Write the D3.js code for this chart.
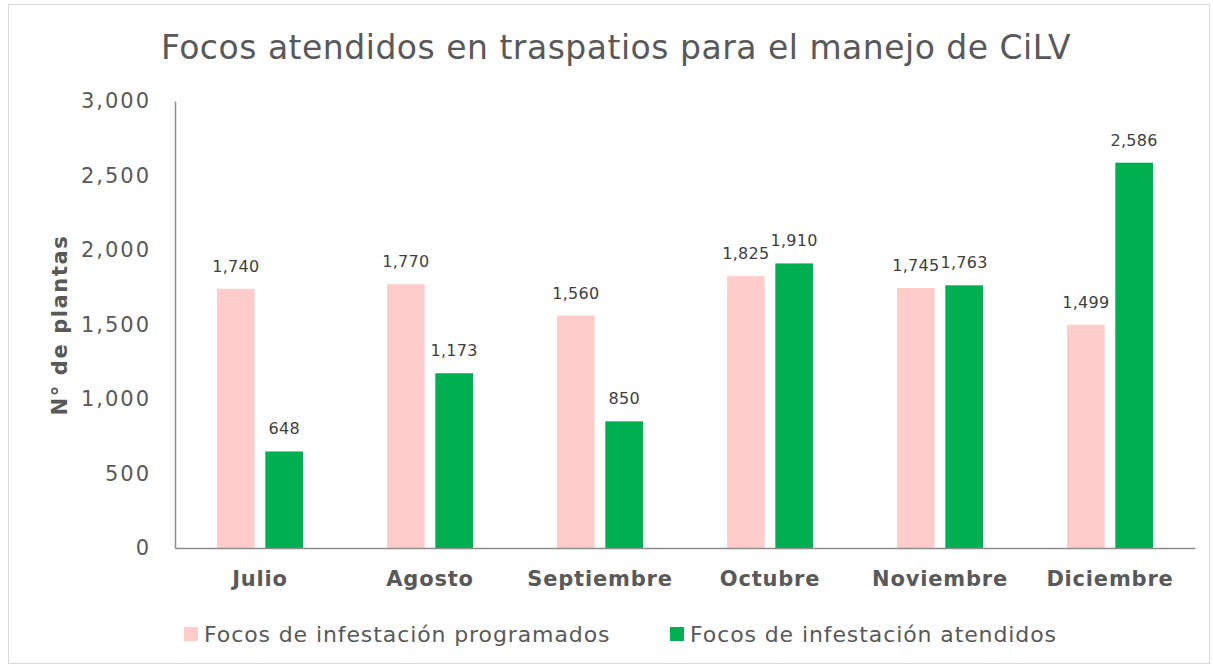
<!DOCTYPE html>
<html>
<head>
<meta charset="utf-8">
<script src="https://cdn.jsdelivr.net/npm/d3@7"></script>
<style>
  body { margin: 0; background: #fff; }
  svg text { font-family: "DejaVu Sans", "Open Sans", sans-serif; }
</style>
</head>
<body>
<div id="chart"></div>
<script>
var meses = ["Julio", "Agosto", "Septiembre", "Octubre", "Noviembre", "Diciembre"];
var series = ["Focos de infestación programados", "Focos de infestación atendidos"];
var programados = [1740, 1770, 1560, 1825, 1745, 1499];
var atendidos = [648, 1173, 850, 1910, 1763, 2586];
var yTicks = [0, 500, 1000, 1500, 2000, 2500, 3000];
var colores = ["#FFCCCC", "#00B050"];

var W = 1213, H = 666;
var margin = { top: 101, right: 18, bottom: 118, left: 175 },
    width = 1195 - margin.left,
    height = 548 - margin.top;

var svg = d3.select("#chart").append("svg")
    .attr("width", W)
    .attr("height", H);

// outer frame
svg.append("rect")
    .attr("x", 8.5).attr("y", 4.5)
    .attr("width", 1201).attr("height", 659)
    .attr("fill", "#fff")
    .attr("stroke", "#d9d9d9");

var g = svg.append("g")
    .attr("transform", "translate(" + margin.left + "," + margin.top + ")");

var x0 = d3.scaleBand().domain(meses).range([0, width]);
var x1 = d3.scaleBand().domain(series)
    .range([x0.bandwidth() / 2 - 43, x0.bandwidth() / 2 + 43])
    .paddingInner(0.22);
var y = d3.scaleLinear().domain([0, 3000]).range([height, 0]);

var rows = meses.map(function (m, i) {
    return { mes: m, values: [
        { key: series[0], value: programados[i] },
        { key: series[1], value: atendidos[i] }
    ] };
});

// bars
var grupos = g.selectAll(".grupo").data(rows).enter().append("g")
    .attr("transform", function (d) { return "translate(" + x0(d.mes) + ",0)"; });

grupos.selectAll("rect").data(function (d) { return d.values; }).enter().append("rect")
    .attr("x", function (d) { return x1(d.key); })
    .attr("y", function (d) { return y(d.value); })
    .attr("width", x1.bandwidth())
    .attr("height", function (d) { return height - y(d.value); })
    .attr("fill", function (d, i) { return colores[i]; });

// data labels
grupos.selectAll(".lbl").data(function (d) { return d.values; }).enter().append("text")
    .attr("x", function (d) { return x1(d.key) + x1.bandwidth() / 2; })
    .attr("y", function (d) { return y(d.value) - 17; })
    .attr("text-anchor", "middle")
    .style("font-size", "16px")
    .style("letter-spacing", "0.3px")
    .style("fill", "#404040")
    .text(function (d) { return d3.format(",")(d.value); });

// y axis
var yAxis = g.append("g")
    .call(d3.axisLeft(y).tickValues(yTicks).tickFormat(d3.format(",")).tickSize(0).tickPadding(24));
yAxis.select(".domain").attr("stroke", "#8c8c8c").attr("stroke-width", 1.5);
yAxis.selectAll("text").style("font-size", "21px").style("letter-spacing", "2px").style("fill", "#595959");

// x axis
var xAxis = g.append("g")
    .attr("transform", "translate(0," + height + ")")
    .call(d3.axisBottom(x0).tickSize(0).tickPadding(23));
xAxis.select(".domain").attr("stroke", "#8c8c8c").attr("stroke-width", 1.5);
xAxis.selectAll("text").style("font-size", "21px").style("font-weight", "bold")
    .style("letter-spacing", "0.8px").style("fill", "#595959");

// y axis title
svg.append("text")
    .attr("transform", "translate(67,325) rotate(-90)")
    .attr("text-anchor", "middle")
    .style("font-size", "21px")
    .style("font-weight", "bold")
    .style("letter-spacing", "1.6px")
    .style("fill", "#595959")
    .text("N° de plantas");

// title
svg.append("text")
    .attr("x", 616)
    .attr("y", 59)
    .attr("text-anchor", "middle")
    .style("font-size", "33px")
    .style("letter-spacing", "0.5px")
    .style("fill", "#595959")
    .text("Focos atendidos en traspatios para el manejo de CiLV");

// legend
var legX = [184, 670];
var leg = svg.selectAll(".leg").data(series).enter().append("g")
    .attr("transform", function (d, i) { return "translate(" + legX[i] + ",627)"; });
leg.append("rect")
    .attr("width", 14).attr("height", 14)
    .attr("fill", function (d, i) { return colores[i]; });
leg.append("text")
    .attr("x", 20).attr("y", 15)
    .style("font-size", "22px")
    .style("letter-spacing", "0.9px")
    .style("fill", "#595959")
    .text(function (d) { return d; });
</script>
</body>
</html>
